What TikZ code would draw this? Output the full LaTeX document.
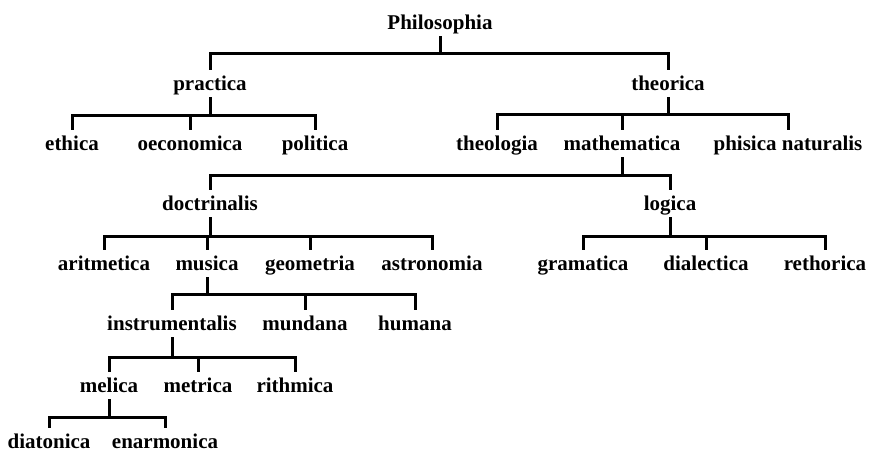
\documentclass[tikz,border=0pt]{standalone}
\usepackage{fontspec}
\setmainfont{Liberation Serif}
\newcommand\tbranch[5]{%
  \draw[ln, shorten <=3pt] (#1.south) -- (#1.south |- 0,#4);
  \draw[ln, shorten <=5pt, shorten >=5pt] (#2.north) -- (#2.north |- 0,#4) -- (#3.north |- 0,#4) -- (#3.north);
  \foreach \m in {#5} {\draw[ln, shorten >=5pt] (\m.north |- 0,#4) -- (\m.north);}
}
\begin{document}
\begin{tikzpicture}[x=1pt,y=-1pt,
  lbl/.style={font=\fontsize{21}{24}\selectfont\bfseries, inner sep=0pt, anchor=base, text height=15pt, text depth=4pt},
  ln/.style={line width=3pt, line join=miter}]
\useasboundingbox (0,0) rectangle (871,451);
\node[lbl] (phil) at (440,29) {Philosophia};
\node[lbl] (prac) at (210,90) {practica};
\node[lbl] (theo) at (668,90) {theorica};
\node[lbl] (eth) at (72,150) {ethica};
\node[lbl] (oec) at (190,150) {oeconomica};
\node[lbl] (pol) at (315,150) {politica};
\node[lbl] (theol) at (497,150) {theologia};
\node[lbl] (math) at (622,150) {mathematica};
\node[lbl] (phys) at (788,150) {phisica naturalis};
\node[lbl] (doct) at (210,210) {doctrinalis};
\node[lbl] (logi) at (670,210) {logica};
\node[lbl] (arit) at (104,270) {aritmetica};
\node[lbl] (mus) at (207,270) {musica};
\node[lbl] (geom) at (310,270) {geometria};
\node[lbl] (astr) at (432,270) {astronomia};
\node[lbl] (gram) at (583,270) {gramatica};
\node[lbl] (dial) at (706,270) {dialectica};
\node[lbl] (reth) at (825,270) {rethorica};
\node[lbl] (instr) at (172,330) {instrumentalis};
\node[lbl] (mund) at (305,330) {mundana};
\node[lbl] (hum) at (415,330) {humana};
\node[lbl] (mel) at (109,392) {melica};
\node[lbl] (metr) at (198,392) {metrica};
\node[lbl] (rith) at (295,392) {rithmica};
\node[lbl, text depth=1pt] (diat) at (49,448) {diatonica};
\node[lbl, text depth=1pt] (enar) at (165,448) {enarmonica};
\tbranch{phil}{prac}{theo}{53}{}
\tbranch{prac}{eth}{pol}{115}{oec}
\tbranch{theo}{theol}{phys}{114}{math}
\tbranch{math}{doct}{logi}{175}{}
\tbranch{doct}{arit}{astr}{236}{mus,geom}
\tbranch{logi}{gram}{reth}{236}{dial}
\tbranch{mus}{instr}{hum}{294}{mund}
\tbranch{instr}{mel}{rith}{357}{metr}
\tbranch{mel}{diat}{enar}{417}{}
\end{tikzpicture}
\end{document}
